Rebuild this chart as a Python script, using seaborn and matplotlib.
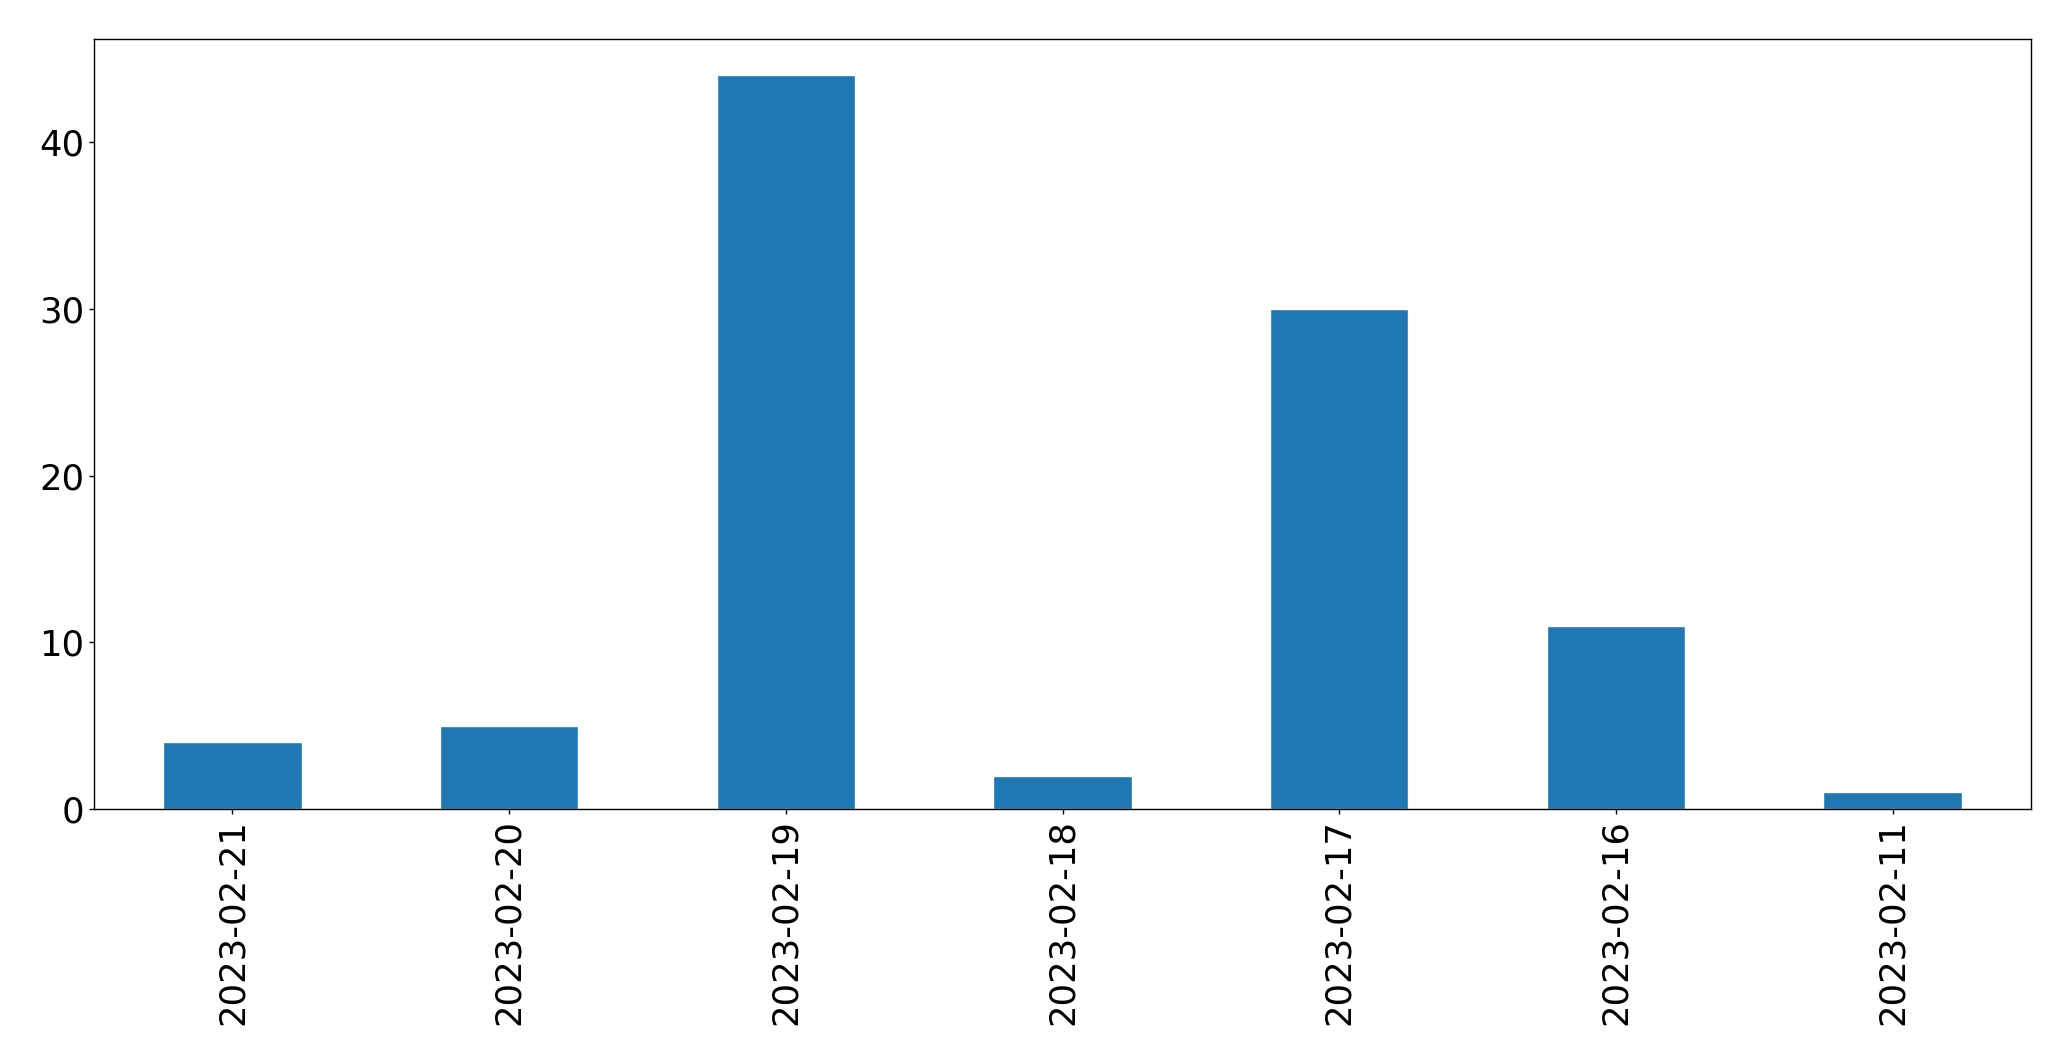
import matplotlib
matplotlib.use("Agg")
import matplotlib.pyplot as plt
import pandas as pd
import seaborn as sns

# Counts per date, in the order shown on the chart.
dates = ["2023-02-21", "2023-02-20", "2023-02-19", "2023-02-18",
         "2023-02-17", "2023-02-16", "2023-02-11"]
counts = [4, 5, 44, 2, 30, 11, 1]


def main() -> None:
    sns.set_style("white")
    plt.rcParams["font.family"] = ["DejaVu Sans"]

    df = pd.DataFrame({"date": dates, "count": counts})

    fig, ax = plt.subplots(figsize=(20.71, 10.61), dpi=100)
    fig.subplots_adjust(left=0.0454, right=0.9807, top=0.9635, bottom=0.2375)

    sns.barplot(data=df, x="date", y="count", order=dates,
                color="#1f77b4", saturation=1, width=0.5, ax=ax)

    ax.set_xlim(-0.5, len(dates) - 0.5)
    ax.set_ylim(0, max(counts) * 1.05)
    ax.set_xlabel("")
    ax.set_ylabel("")
    ax.tick_params(axis="both", labelsize=25.5, length=3.5, width=1, pad=3.5,
                   bottom=True, left=True, color="black", labelcolor="black")
    plt.setp(ax.get_xticklabels(), rotation=90)
    for spine in ax.spines.values():
        spine.set_visible(True)
        spine.set_color("black")
        spine.set_linewidth(1)

    fig.savefig("out.png", dpi=100)
    plt.close(fig)


if __name__ == "__main__":
    main()
